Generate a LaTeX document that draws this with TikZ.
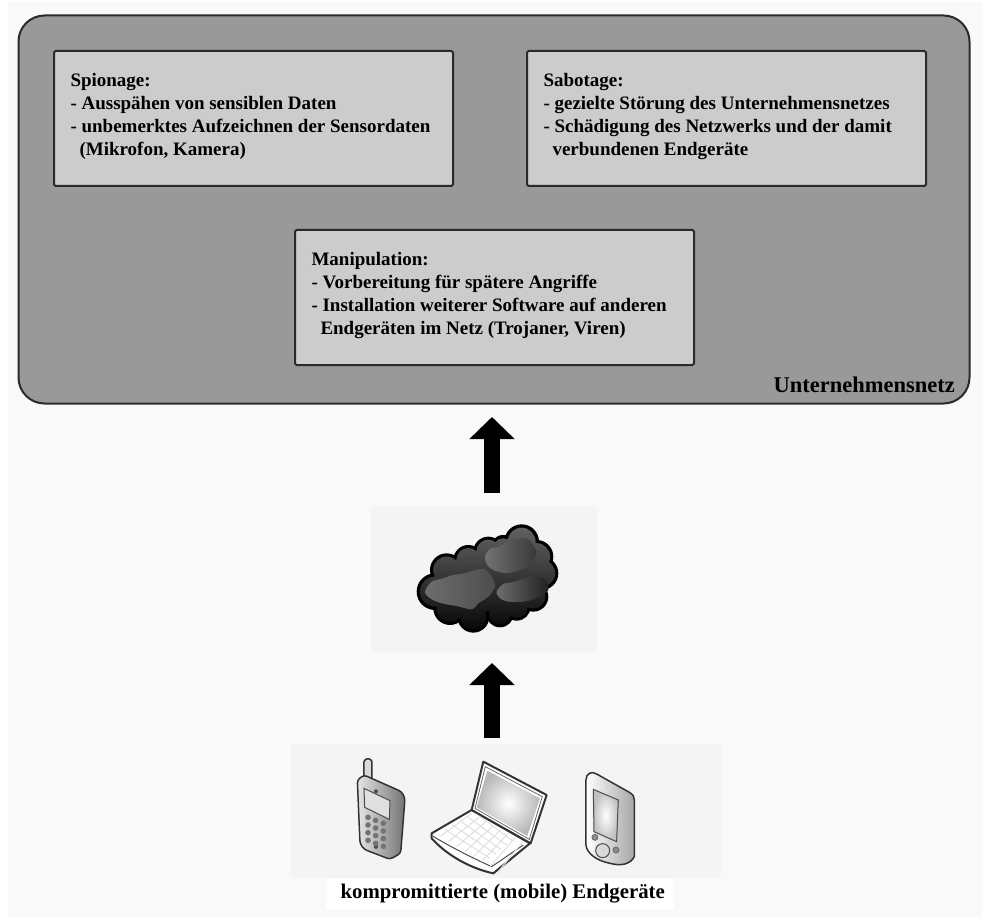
\documentclass[tikz,border=0pt]{standalone}
\usepackage{fontspec}
\setmainfont{Liberation Serif}
\usetikzlibrary{arrows.meta}
\definecolor{pagebg}{HTML}{F9F9F9}
\definecolor{iconbg}{HTML}{F4F4F4}
\definecolor{netgray}{HTML}{999999}
\definecolor{boxgray}{HTML}{CCCCCC}
\definecolor{edge}{HTML}{2A2A2A}
\newcommand{\boxtext}[1]{\parbox[c][133pt][t]{366pt}{\setlength{\baselineskip}{23pt}\vspace*{21pt}\bfseries\fontsize{19pt}{23pt}\selectfont #1}}
\tikzset{
  x=1pt,y=-1pt,
  netbox/.style={draw=edge,line width=2pt,fill=netgray,rounded corners=26pt,minimum width=951pt,minimum height=388pt,anchor=north west,inner sep=0pt},
  infobox/.style={draw=edge,line width=2pt,fill=boxgray,rounded corners=1.5pt,anchor=north west,inner xsep=16pt,inner ysep=0pt,minimum width=399pt,minimum height=135pt},
  iconpanel/.style={fill=iconbg,draw=none,anchor=north west,inner sep=0pt},
  bigarrow/.style={line width=16pt,-{Triangle[length=22pt,width=44pt]},black},
  iconline/.style={draw=black!80,line width=1.5pt,line join=round},
}
\begin{document}
\begin{tikzpicture}
\useasboundingbox (0,0) rectangle (982,917);
\fill[white] (0,0) rectangle (982,917);
\fill[pagebg] (8,2) rectangle (982,917);
% network
\node[netbox] (net) at (17.5,14.5) {};
\node[infobox] (spio) at (53,50) {\boxtext{Spionage:\\- Ausspähen von sensiblen Daten\\- unbemerktes Aufzeichnen der Sensordaten\\\hspace*{9pt}(Mikrofon, Kamera)}};
\node[infobox] (sabo) at (526,50) {\boxtext{Sabotage:\\- gezielte Störung des Unternehmensnetzes\\- Schädigung des Netzwerks und der damit\\\hspace*{9pt}verbundenen Endgeräte}};
\node[infobox] (mani) at (294,229) {\boxtext{Manipulation:\\- Vorbereitung für spätere Angriffe\\- Installation weiterer Software auf anderen\\\hspace*{9pt}Endgeräten im Netz (Trojaner, Viren)}};
\node[font=\bfseries\fontsize{22.5pt}{24pt}\selectfont,inner sep=0pt,anchor=east] (netlabel) at (955,385) {Unternehmensnetz};
% panels
\node[iconpanel,minimum width=226pt,minimum height=146pt] (cloudpanel) at (371,506) {};
\node[iconpanel,minimum width=430pt,minimum height=134pt] (devpanel) at (291,744) {};
\node[fill=white,font=\bfseries\fontsize{20.8pt}{24pt}\selectfont,inner sep=0pt,minimum width=348pt,minimum height=31pt,anchor=north west] (devlabel) at (326,878) {\hspace*{5pt}kompromittierte (mobile) Endgeräte};
% arrows
\coordinate (cloudtop) at (492,506);
\coordinate (netbottom) at (492,403);
\coordinate (devtop) at (492,744);
\coordinate (cloudbottom) at (492,652);
\draw[bigarrow,shorten <=13pt,shorten >=14pt] (cloudtop) -- (netbottom);
\draw[bigarrow,shorten <=6pt,shorten >=11pt] (devtop) -- (cloudbottom);
% cloud
\begin{scope}[shift={(360,400)},x=0.3333pt,y=-0.3333pt]
  \foreach \cx/\cy/\r in {260/510/50,325/480/45,385/455/45,430/445/40,485/425/52,530/470/50,545/520/50,520/590/45,470/620/42,420/640/42,340/650/48,270/625/50,225/575/55,350/550/100,450/530/100}
    \fill[black] (\cx,\cy) circle[radius=\r*1pt/3];
  \shade[top color=black!62,bottom color=black!97]
    (260,510) circle[radius=13.5pt] (325,480) circle[radius=12pt] (385,455) circle[radius=12pt] (430,445) circle[radius=10pt]
    (485,425) circle[radius=14pt] (530,470) circle[radius=13.5pt] (545,520) circle[radius=13.5pt] (520,590) circle[radius=12pt]
    (470,620) circle[radius=11pt] (420,640) circle[radius=11pt] (340,650) circle[radius=13pt] (270,625) circle[radius=13.5pt]
    (225,575) circle[radius=15pt] (350,550) circle[radius=30pt] (450,530) circle[radius=30pt];
  \shade[left color=black!55,right color=black!78] plot[smooth cycle] coordinates {(375,470)(392,445)(420,440)(440,425)(470,418)(500,415)(515,430)(530,460)(510,495)(480,510)(440,520)(400,510)(382,495)};
  \shade[left color=black!57,right color=black!70] plot[smooth cycle] coordinates {(195,575)(215,545)(250,535)(280,525)(315,520)(345,510)(375,508)(395,530)(405,560)(385,590)(355,610)(335,628)(290,618)(245,610)(210,595)};
  \shade[left color=black!57,right color=black!88] plot[smooth cycle] coordinates {(410,575)(430,552)(465,545)(495,535)(530,530)(555,538)(565,570)(530,595)(490,605)(445,605)(420,595)};
\end{scope}
% phone
\begin{scope}[shift={(290,730)},x=0.3333pt,y=-0.3333pt]
  \filldraw[iconline,fill=black!15] (222,145) -- (222,95) .. controls (225,83) and (243,83) .. (246,95) -- (246,150) -- cycle;
  \shade[draw=black!80,line width=1.5pt,line join=round,rounded corners=3pt,left color=black!10,right color=black!55] (202,150) -- (222,135) -- (335,185) -- (345,205) -- (332,370) -- (300,388) -- (222,358) -- (210,340) -- cycle;
  \filldraw[draw=black!70,line width=1pt,fill=black!12] (222,175) -- (300,212) -- (298,268) -- (224,232) -- cycle;
  \fill[black!70] (258,184) circle[radius=2pt];
  \fill[black!70] (258,350) circle[radius=2.2pt];
  \foreach \i in {0,1,2}\foreach \j in {0,1,2,3}
    \fill[black!55] (234+\i*23,262+\i*9+\j*23) circle[radius=2.8pt];
\end{scope}
% laptop
\begin{scope}[shift={(290,730)},x=0.3333pt,y=-0.3333pt]
  \filldraw[iconline,line width=2pt,fill=white] (425,310) -- (545,240) -- (720,340) -- (610,430) .. controls (540,415) and (470,375) .. (425,325) -- cycle;
  \draw[black!70,line width=1pt] (428,318) .. controls (480,350) and (550,385) .. (605,410) -- (700,345);
  \foreach \i in {0,1,2,3,4,5}
    \draw[black!12,line width=1pt] (465+\i*22,298-\i*13+0) -- (600+\i*17,385-\i*13);
  \foreach \i in {0,1,2,3,4,5,6,7}
    \draw[black!12,line width=1pt] (450+\i*25,320+\i*15) -- (545+\i*22,250+\i*12);
  \filldraw[iconline,line width=2pt,fill=white] (580,95) -- (770,195) -- (722,340) -- (545,240) -- cycle;
  \draw[black!60,line width=0.8pt] (586,110) -- (757,200) -- (718,328) -- (555,235) -- cycle;
  \shade[inner color=white,outer color=black!28] (592,122) -- (750,205) -- (712,318) -- (560,232) -- cycle;
\end{scope}
% handheld
\begin{scope}[shift={(290,730)},x=0.3333pt,y=-0.3333pt]
  \shade[draw=black!80,line width=1.5pt,line join=round,left color=white,right color=black!35] (888,150) .. controls (888,130) and (905,122) .. (920,132) -- (1020,188) .. controls (1030,195) and (1033,200) .. (1033,210) -- (1033,380) .. controls (1020,405) and (990,408) .. (960,400) .. controls (920,392) and (890,370) .. (888,345) -- cycle;
  \shade[draw=black!70,line width=1pt,inner color=white,outer color=black!25] (910,178) -- (985,210) -- (980,335) -- (912,305) -- cycle;
  \filldraw[draw=black!70,line width=1pt,fill=black!15] (938,362) circle[radius=7pt];
  \filldraw[draw=black!60,line width=0.8pt,fill=black!45] (915,322) circle[radius=3pt];
  \filldraw[draw=black!60,line width=0.8pt,fill=black!45] (978,360) circle[radius=3pt];
\end{scope}
\end{tikzpicture}
\end{document}
